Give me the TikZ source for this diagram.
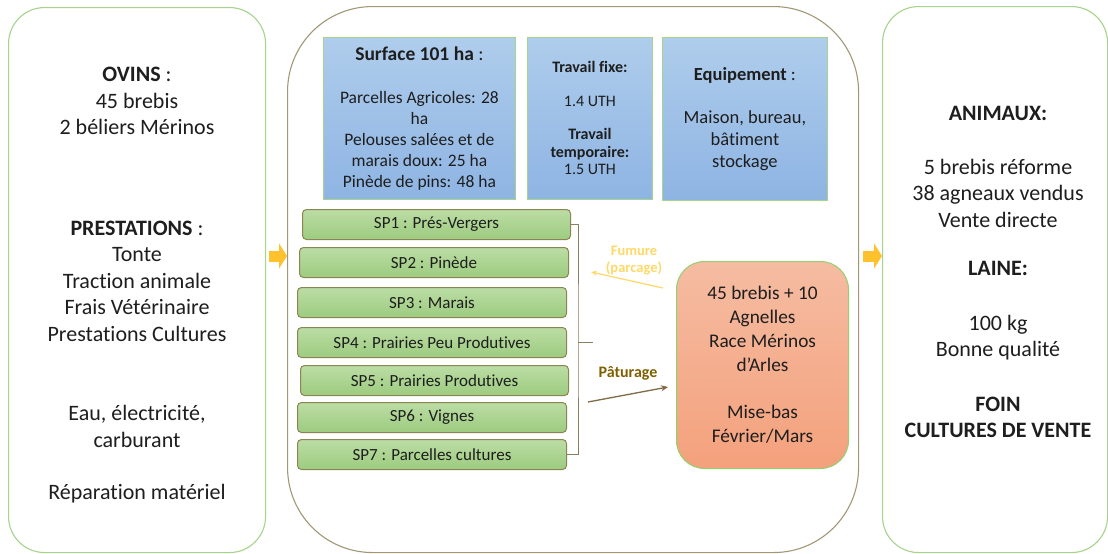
\documentclass[tikz,border=0pt]{standalone}
\usepackage{fontspec}
\setmainfont{Carlito}[Ligatures=NoCommon]
\usepackage{tikz}
\usetikzlibrary{arrows.meta,positioning}
\definecolor{framegreen}{HTML}{A6D48A}
\definecolor{framebrown}{HTML}{A29877}
\definecolor{bluetop}{HTML}{AFCDEC}
\definecolor{bluebot}{HTML}{8EB4E3}
\definecolor{spgtop}{HTML}{BCDDA5}
\definecolor{spgbot}{HTML}{9CCB7F}
\definecolor{spedge}{HTML}{8B8553}
\definecolor{herdtop}{HTML}{F5BCA2}
\definecolor{herdbot}{HTML}{F4A17C}
\definecolor{herdedge}{HTML}{94D06E}
\definecolor{flowyel}{HTML}{FFC12E}
\definecolor{fumcol}{HTML}{FFD966}
\definecolor{patcol}{HTML}{7F6000}
\definecolor{patline}{HTML}{7F6A45}
\definecolor{bracecol}{HTML}{8B7D5E}
\definecolor{inkcol}{HTML}{1E1E1E}

\begin{document}
\begin{tikzpicture}[x=1pt,y=-1pt,>=Stealth,text=inkcol,
  outerbox/.style={draw=framegreen,line width=1.1pt,rounded corners=36,anchor=north west,inner sep=0pt},
  infobox/.style={draw=framegreen,line width=0.8pt,top color=bluetop,bottom color=bluebot,anchor=north west,align=center,inner sep=0pt},
  spbox/.style={draw=spedge,line width=1pt,top color=spgtop,bottom color=spgbot,rounded corners=4,anchor=north west,minimum height=30,inner sep=0pt,font=\fontsize{17}{20}\selectfont},
  bigtext/.style={align=center,font=\fontsize{22}{26.5}\selectfont},
  flow/.style={flowyel,line width=11pt,-{Triangle[length=8pt,width=25pt]}},
  bracketline/.style={bracecol,line width=1pt}]
  \path[fill=white,use as bounding box] (0,0) rectangle (1108,554);

  \node[outerbox,minimum width=257,minimum height=545] (inputs) at (8,7) {};
  \node[outerbox,draw=framebrown,rounded corners=85,minimum width=571,minimum height=546] (farm) at (287,6) {};
  \node[outerbox,minimum width=225,minimum height=546] (outputs) at (882,6) {};

  \node[bigtext] (ovins) at (137,101) {\textbf{OVINS} :\\45 brebis\\2 béliers Mérinos};
  \node[bigtext] (prest) at (137,281) {\textbf{PRESTATIONS} :\\Tonte\\Traction animale\\Frais Vétérinaire\\Prestations Cultures};
  \node[bigtext] (energie) at (137,426.5) {Eau, électricité,\\carburant};
  \node[bigtext] (repar) at (137,494) {Réparation matériel};

  \node[bigtext] (animaux) at (998,113) {\textbf{ANIMAUX:}};
  \node[bigtext] (ventes) at (998,193) {5 brebis réforme\\38 agneaux vendus\\Vente directe};
  \node[bigtext] (laine) at (998,268) {\textbf{LAINE:}};
  \node[bigtext] (lainedet) at (998,337.5) {100 kg\\Bonne qualité};
  \node[bigtext] (foin) at (998,417.5) {\textbf{FOIN}\\\textbf{CULTURES DE VENTE}};

  \node[infobox,minimum width=192,minimum height=162,font=\fontsize{17.5}{21}\selectfont] (surface) at (323,37)
    {{\fontsize{19.5}{21}\selectfont\textbf{Surface 101 ha} :}\\[22pt]Parcelles Agricoles: 28\\ha\\Pelouses salées et de\\marais doux: 25 ha\\Pinède de pins: 48 ha};
  \node[infobox,minimum width=125,minimum height=162,font=\fontsize{16}{17.5}\selectfont] (travail) at (527,37)
    {\textbf{Travail fixe:}\\[16.5pt]1.4 UTH\\[15.5pt]\textbf{Travail}\\\textbf{temporaire:}\\1.5 UTH};
  \node[infobox,minimum width=165,minimum height=163,font=\fontsize{18.5}{22}\selectfont] (equip) at (662,37)
    {\textbf{Equipement} :\\[21pt]Maison, bureau,\\bâtiment\\stockage};

  \foreach \i/\x/\y/\w/\lbl in {1/302/209/268/Prés-Vergers, 2/299/247/269/Pinède, 3/297/287/269/Marais,
      4/297/327/269/Prairies Peu Produtives, 5/300/365/268/Prairies Produtives, 6/297/402/269/Vignes,
      7/297/439/269/Parcelles cultures}
    \node[spbox,minimum width=\w] (sp\i) at (\x,\y) {SP\i{} : \lbl};

  \node[draw=herdedge,line width=1pt,top color=herdtop,bottom color=herdbot,rounded corners=28,anchor=north west,
    minimum width=172,minimum height=207,inner sep=0pt,align=center,font=\fontsize{19.3}{23.8}\selectfont] (herd) at (676,261)
    {45 brebis + 10\\Agnelles\\Race Mérinos\\d’Arles\\[23.8pt]Mise-bas\\Février/Mars};

  \coordinate (brace) at (578,342);
  \coordinate (bracetip) at (593,342);
  \draw[bracketline] (sp1.east) -| (brace) |- (sp7.east);
  \draw[bracketline] (brace) -- (bracetip);

  \coordinate (fumfrom) at (663,288);
  \coordinate (fumto) at (591,272);
  \draw[fumcol,line width=1.2pt,-{Stealth[length=6pt,width=5pt]}] (fumfrom) -- (fumto);
  \node[font=\bfseries\fontsize{14.5}{17}\selectfont,text=fumcol,align=center] (fumlbl) at (634,261) {Fumure\\(parcage)};

  \coordinate (patfrom) at (588,402);
  \coordinate (patto) at (668,387);
  \draw[patline,line width=1.3pt,-{Stealth[length=7pt,width=6pt]}] (patfrom) -- (patto);
  \node[font=\bfseries\fontsize{16}{19}\selectfont,text=patcol] (patlbl) at (628,373) {Pâturage};

  \coordinate (inlevel) at (0,256);
  \draw[flow,shorten <=3pt] (inputs.east |- inlevel) -- (farm.west |- inlevel);
  \draw[flow,shorten <=4pt] (farm.east |- inlevel) -- (outputs.west |- inlevel);
\end{tikzpicture}
\end{document}
